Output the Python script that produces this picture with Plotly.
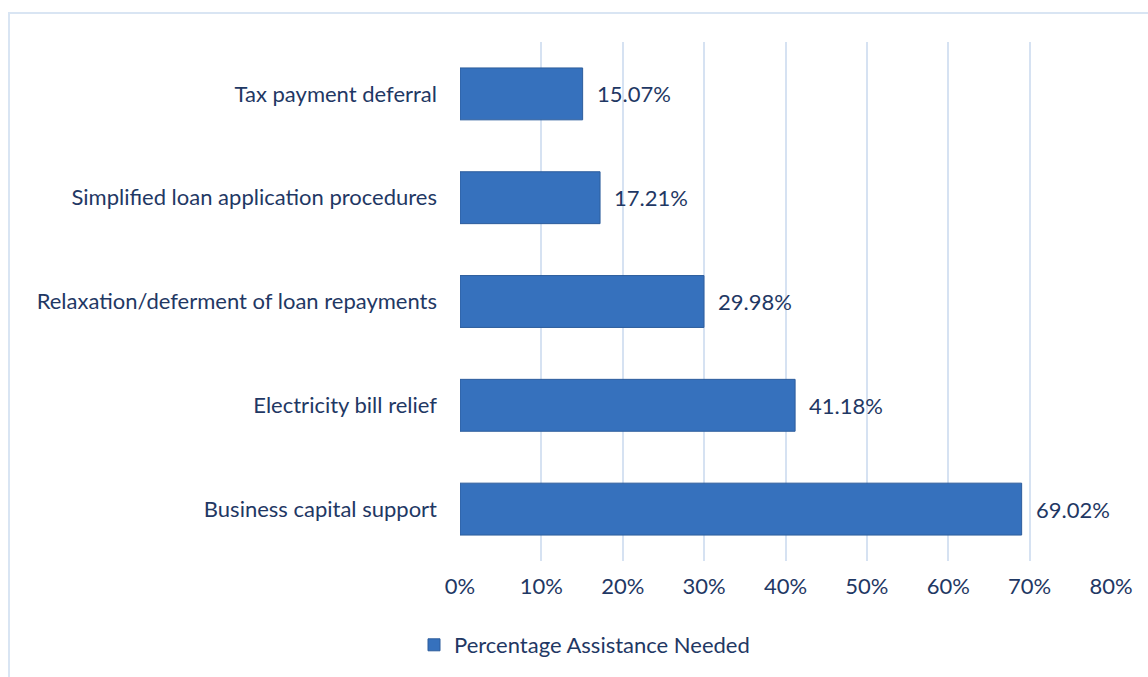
import plotly.graph_objects as go

categories = ["Business capital support", "Electricity bill relief",
              "Relaxation/deferment of loan repayments",
              "Simplified loan application procedures", "Tax payment deferral"]
values = [69.02, 41.18, 29.98, 17.21, 15.07]
labels = ["69.02%", "41.18%", "29.98%", "17.21%", "15.07%"]
series_name = "Percentage Assistance Needed"
tick_vals = [0, 10, 20, 30, 40, 50, 60, 70, 80]
tick_text = ["0%", "10%", "20%", "30%", "40%", "50%", "60%", "70%", "80%"]

FONT = "Lato"
FS = 22
TXT = "#1f3864"
GRID = "#d6e2f2"

fig = go.Figure()
fig.add_trace(go.Bar(
    y=categories, x=values, orientation="h", name=series_name,
    width=0.5,
    marker=dict(color="#3671bd", line=dict(color="#2d5d9c", width=1)),
    showlegend=True,
))

for c, v, t in zip(categories, values, labels):
    fig.add_annotation(x=v, y=c, text=t, showarrow=False, xanchor="left",
                       xshift=12, font=dict(family=FONT, size=FS, color=TXT))

L, R, T, B = 460, 37, 42, 115
W, H = 1148, 677
pw = W - L - R
ph = H - T - B

fig.update_layout(
    width=W, height=H,
    margin=dict(l=L, r=R, t=T, b=B, pad=0),
    paper_bgcolor="white", plot_bgcolor="white",
    font=dict(family=FONT, size=FS, color=TXT),
    xaxis=dict(range=[0, 80], tickvals=tick_vals, ticktext=tick_text,
               showgrid=True, gridcolor=GRID, gridwidth=2, zeroline=False,
               showline=False, ticks="", ticklabelstandoff=10,
               tickfont=dict(family=FONT, size=FS, color=TXT), fixedrange=True),
    yaxis=dict(categoryorder="array", categoryarray=categories,
               showgrid=False, zeroline=False, showline=False, ticks="",
               ticklabelstandoff=22,
               tickfont=dict(family=FONT, size=FS, color=TXT)),
    legend=dict(orientation="h", x=(414 - L) / pw, xanchor="left",
                y=(H - B - 645) / ph, yanchor="middle",
                font=dict(family=FONT, size=FS, color=TXT),
                itemwidth=30, bgcolor="rgba(0,0,0,0)"),
    shapes=[dict(type="rect", xref="paper", yref="paper",
                 x0=(9 - L) / pw, x1=(1160 - L) / pw,
                 y0=(H - B - 690) / ph, y1=(H - B - 13) / ph,
                 line=dict(color="#d9e5f3", width=2), layer="below")],
)

fig.write_html("out.html")
